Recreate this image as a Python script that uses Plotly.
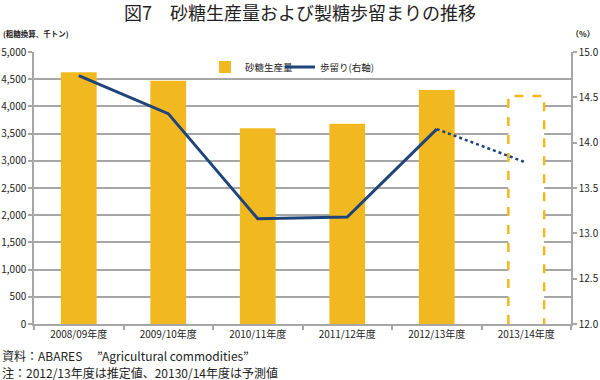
import plotly.graph_objects as go

categories = ["2008/09年度", "2009/10年度", "2010/11年度", "2011/12年度", "2012/13年度", "2013/14年度"]
production = [4630, 4470, 3600, 3680, 4300, 4190]   # 千トン (last = forecast)
yield_pct = [14.74, 14.32, 13.16, 13.18, 14.15, 13.78]  # %

BAR = "#F2B81F"
NAVY = "#1F4479"
GRID = "#A6A6A6"
FONT = "Noto Sans CJK JP"

xs = list(range(len(categories)))
n_actual = 5
bw = 0.4

fig = go.Figure()
fig.add_trace(go.Bar(x=xs[:n_actual], y=production[:n_actual], width=bw,
                     marker=dict(color=BAR, line=dict(width=0)), name="砂糖生産量",
                     yaxis="y", legend="legend"))
# forecast bar as dashed outline
i = xs[-1]
v = production[-1]
fig.add_trace(go.Scatter(x=[i - bw / 2, i - bw / 2, i + bw / 2, i + bw / 2],
                         y=[0, v, v, 0], mode="lines", fill="toself", fillcolor="white",
                         line=dict(color=BAR, width=2.5, dash="dash"),
                         showlegend=False, hoverinfo="skip", yaxis="y"))
fig.add_trace(go.Scatter(x=xs[:n_actual], y=yield_pct[:n_actual], mode="lines",
                         line=dict(color=NAVY, width=3), name="歩留り(右軸)", yaxis="y2",
                         legend="legend2"))
fig.add_trace(go.Scatter(x=xs[n_actual - 1:], y=yield_pct[n_actual - 1:], mode="lines",
                         line=dict(color=NAVY, width=2.5, dash="dot"), showlegend=False,
                         yaxis="y2"))

L, R, T, B = 34, 29, 52, 56
PW, PH = 600 - L - R, 380 - T - B

leg_common = dict(orientation="h", xanchor="left", y=(324 - 67) / PH, yanchor="middle",
                  font=dict(size=9.5), bgcolor="rgba(0,0,0,0)")

fig.update_layout(
    width=600, height=380,
    margin=dict(l=L, r=R, t=T, b=B, autoexpand=False),
    paper_bgcolor="white", plot_bgcolor="white",
    font=dict(family=FONT, size=10, color="#222222"),
    showlegend=True,
    legend=dict(x=(205 - L) / PW, **leg_common),
    legend2=dict(x=(280 - L) / PW, **leg_common),
    xaxis=dict(range=[-0.5, 5.5], tickvals=xs, ticktext=categories, ticks="",
               showgrid=False, zeroline=False, showline=True, linecolor=GRID, linewidth=1.5,
               tickfont=dict(size=10), automargin=False,
               minor=dict(tickvals=[x - 0.5 for x in xs] + [xs[-1] + 0.5], ticks="outside",
                          ticklen=4, tickcolor=GRID, tickwidth=1.5, showgrid=False)),
    yaxis=dict(range=[0, 5000], dtick=500, tickformat=",", showgrid=True, gridcolor=GRID,
               gridwidth=1.5, zeroline=False, showline=True, linecolor=GRID, linewidth=1.5,
               ticks="outside", ticklen=4, tickcolor=GRID, tickwidth=1.5,
               tickfont=dict(size=10), automargin=False),
    yaxis2=dict(range=[12, 15], dtick=0.5, tickformat=".1f", overlaying="y", side="right",
                showgrid=False, zeroline=False, showline=True, linecolor=GRID, linewidth=1.5,
                ticks="outside", ticklen=4, tickcolor=GRID, tickwidth=1.5,
                tickfont=dict(size=10), automargin=False),
    title=dict(text="図7　砂糖生産量および製糖歩留まりの推移", x=0.5, xanchor="center",
               y=1 - 13.5 / 380, yanchor="middle", font=dict(size=18, color="#222222", family=FONT),
               automargin=False),
)

fig.add_annotation(text="<b>(粗糖換算、千トン)</b>", xref="paper", yref="paper",
                   x=-(L - 1) / PW, y=(324 - 33) / PH, xanchor="left", yanchor="middle",
                   showarrow=False, font=dict(size=7.5))
fig.add_annotation(text="<b>（%）</b>", xref="paper", yref="paper",
                   x=(597 - L) / PW, y=(324 - 33) / PH, xanchor="right", yanchor="middle",
                   showarrow=False, font=dict(size=8))
fig.add_annotation(text="資料：ABARES　 ”Agricultural commodities”", xref="paper", yref="paper",
                   x=-L / PW, y=(324 - 355) / PH, xanchor="left", yanchor="middle",
                   showarrow=False, font=dict(size=12))
fig.add_annotation(text="注：2012/13年度は推定値、20130/14年度は予測値", xref="paper", yref="paper",
                   x=-L / PW, y=(324 - 372) / PH, xanchor="left", yanchor="middle",
                   showarrow=False, font=dict(size=12))

fig.write_html("out.html", config={"displayModeBar": False},
               post_script="document.body.style.margin='0px';")
